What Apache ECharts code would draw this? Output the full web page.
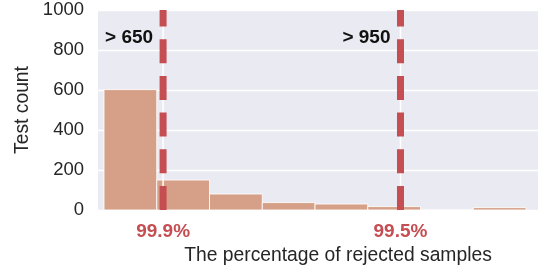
<!DOCTYPE html>
<html>
<head>
<meta charset="utf-8">
<script src="https://cdn.jsdelivr.net/npm/echarts@6/dist/echarts.min.js"></script>
<style>html,body{margin:0;padding:0;background:#fff}#c{width:538px;height:279px}</style>
</head>
<body>
<div id="c"></div>
<script>
// Histogram bins (bin index units) and counts
var binStarts = [0, 1, 2, 3, 4, 5, 6, 7];
var binWidth = 1;
var counts = [602, 150, 80, 37, 30, 17, 3, 12];
// Threshold lines (in bin units), their annotations and tick labels
var thresholdPos = [1.12, 5.62];
var thresholdText = ['> 650', '> 950'];
var tickLabels = ['99.9%', '99.5%'];
var yTicks = [0, 200, 400, 600, 800, 1000];

var RED = '#C44E52';
var TXT = '#262626';
var FONT = '"Liberation Sans", Arial, sans-serif';
var chart = echarts.init(document.getElementById('c'), null, {renderer: 'canvas'});

var barData = binStarts.map(function (s, i) { return [s, s + binWidth, counts[i]]; });
var thrData = thresholdPos.map(function (p, i) { return [p, i]; });

chart.setOption({
  animation: false,
  backgroundColor: '#ffffff',
  grid: {left: 98, top: 10, width: 480, height: 200, backgroundColor: '#EAEAF2', show: true, borderWidth: 0,
         containLabel: false, outerBoundsMode: 'none'},
  xAxis: {
    type: 'value', min: -0.114, max: 8.985,
    axisLine: {show: false}, axisTick: {show: false}, splitLine: {show: false},
    axisLabel: {
      customValues: thresholdPos,
      formatter: function (v) {
        var best = 0;
        for (var i = 1; i < thresholdPos.length; i++) if (Math.abs(thresholdPos[i] - v) < Math.abs(thresholdPos[best] - v)) best = i;
        return tickLabels[best];
      },
      color: RED, fontWeight: 'bold', fontSize: 19, fontFamily: FONT, margin: 12
    },
    name: 'The percentage of rejected samples', nameLocation: 'middle', nameGap: 34,
    nameTextStyle: {color: TXT, fontSize: 19.3, fontFamily: FONT}
  },
  yAxis: {
    type: 'value', min: yTicks[0], max: yTicks[yTicks.length - 1], interval: 200,
    axisLine: {show: false}, axisTick: {show: false},
    splitLine: {show: true, lineStyle: {color: '#ffffff', width: 1.3}},
    axisLabel: {color: TXT, fontSize: 18.5, fontFamily: FONT, margin: 14, formatter: function (v) { return String(v); }},
    name: 'Test count', nameLocation: 'middle', nameGap: 60, nameRotate: 90,
    nameTextStyle: {color: TXT, fontSize: 19.3, fontFamily: FONT}
  },
  series: [
    {
      type: 'custom', data: barData, z: 2,
      encode: {x: [0, 1], y: 2},
      renderItem: function (params, api) {
        var p0 = api.coord([api.value(0), 0]);
        var p1 = api.coord([api.value(1), api.value(2)]);
        return {
          type: 'rect',
          shape: {x: p0[0], y: p1[1], width: p1[0] - p0[0], height: p0[1] - p1[1]},
          style: {fill: '#D5A087', stroke: 'rgba(255,255,255,0.85)', lineWidth: 1}
        };
      }
    },
    {
      type: 'custom', data: thrData, z: 3,
      encode: {x: 0},
      renderItem: function (params, api) {
        var x = api.value(0);
        var idx = api.value(1);
        var b = api.coord([x, yTicks[0]]);
        var t = api.coord([x, yTicks[yTicks.length - 1]]);
        var tp = api.coord([x, 860]);
        return {
          type: 'group',
          children: [
            {type: 'line', shape: {x1: b[0], y1: b[1], x2: t[0], y2: t[1]}, style: {stroke: '#ffffff', lineWidth: 1.5}},
            {type: 'line', shape: {x1: b[0], y1: b[1], x2: t[0], y2: t[1]}, style: {stroke: RED, lineWidth: 7, lineDash: [24, 12.7]}},
            {type: 'text', x: tp[0] - 10, y: tp[1], style: {text: thresholdText[idx], fill: '#111111', fontSize: 19, fontWeight: 'bold', fontFamily: FONT, align: 'right', verticalAlign: 'middle'}}
          ]
        };
      }
    }
  ]
});
</script>
</body>
</html>
